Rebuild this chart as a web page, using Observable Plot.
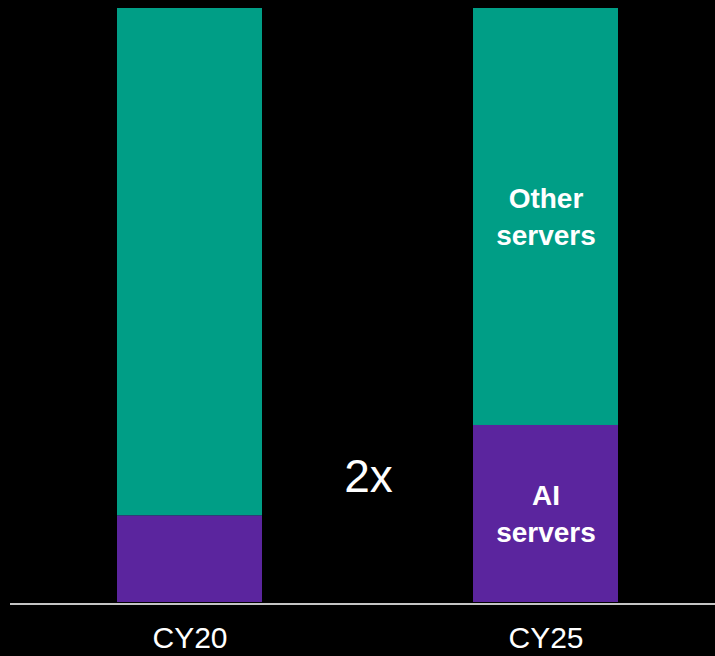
<!DOCTYPE html>
<html>
<head>
<meta charset="utf-8">
<script src="https://cdn.jsdelivr.net/npm/d3@7"></script>
<script src="https://cdn.jsdelivr.net/npm/@observablehq/plot@0.6"></script>
<style>
  html, body { margin: 0; padding: 0; background: #000; }
  #chart svg { display: block; }
</style>
</head>
<body>
<div id="chart"></div>
<script>
const years = ["CY20", "CY25"];
const seriesNames = ["AI servers", "Other servers"];
const aiShare = [14.6, 29.8];
const otherShare = [85.4, 70.2];
const seriesColors = ["#5B259E", "#009E86"];
const labelYear = "CY25";
const growthText = "2x";
const growthY = 21;

const data = [];
years.forEach((yr, i) => {
  data.push({year: yr, series: seriesNames[0], value: aiShare[i]});
  data.push({year: yr, series: seriesNames[1], value: otherShare[i]});
});

const chart = Plot.plot({
  width: 715,
  height: 656,
  marginTop: 8,
  marginBottom: 54,
  marginLeft: 26.75,
  marginRight: 7.75,
  style: {background: "#000", color: "#fff", fontFamily: "'Liberation Sans', Arial, sans-serif"},
  x: {domain: years, paddingInner: 0.5938, paddingOuter: 0.25, label: null},
  y: {domain: [0, 100], axis: null},
  color: {domain: seriesNames, range: seriesColors},
  marks: [
    Plot.barY(data, {x: "year", y: "value", fill: "series", order: seriesNames}),
    Plot.ruleY([0], {stroke: "#c4c4c4", strokeWidth: 2, dy: 1.5, insetLeft: -16.75, insetRight: -7.75}),
    Plot.text(data.filter(d => d.year === labelYear), Plot.stackY({
      x: "year", y: "value", z: "series", order: seriesNames,
      text: d => d.series.replace(" ", "\n"),
      fill: "#fff", fontSize: 28, fontWeight: "bold", lineHeight: 1.3, dy: -2
    })),
    Plot.text([growthText], {
      x: () => years[0], y: () => growthY, text: d => d, dx: 178.5,
      fill: "#fff", fontSize: 46
    }),
    Plot.axisX({tickSize: 0, tickPadding: 24, fontSize: 30, fill: "#fff", label: null})
  ]
});
document.getElementById("chart").appendChild(chart);
</script>
</body>
</html>
